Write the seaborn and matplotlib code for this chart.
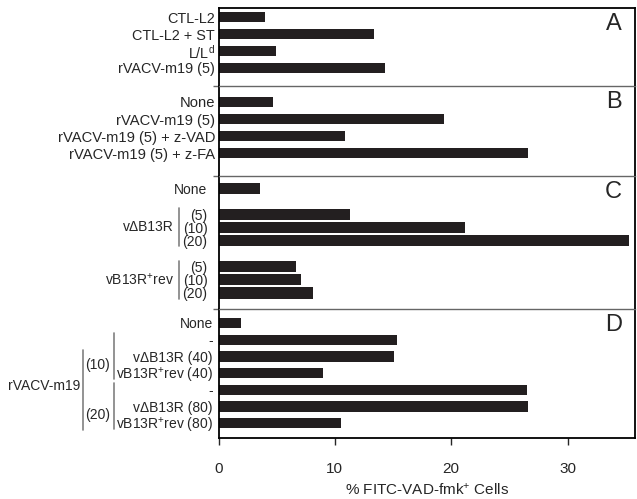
#!/usr/bin/env python3
"""
Horizontal bar panels (A-D) of % FITC-VAD-fmk+ cells per treatment.
"""

import matplotlib
matplotlib.use("Agg")
import matplotlib.pyplot as plt
import matplotlib.transforms as mtransforms
import pandas as pd
import seaborn as sns

# panel A
a_labels = ["CTL-L2", "CTL-L2 + ST", r"L/L$^\mathregular{d}$", "rVACV-m19 (5)"]
a_values = [4.0, 13.4, 4.9, 14.3]

# panel B
b_labels = ["None", "rVACV-m19 (5)", "rVACV-m19 (5) + z-VAD", "rVACV-m19 (5) + z-FA"]
b_values = [4.7, 19.4, 10.9, 26.6]

# panel C
c_labels = ["None", "(5)", "(10)", "(20)", "(5)", "(10)", "(20)"]
c_values = [3.6, 11.3, 21.2, 35.3, 6.7, 7.1, 8.1]
c_groups = ["v\u0394B13R", r"vB13R$^\mathregular{+}$rev"]

# panel D
d_labels = ["None", "-", "v\u0394B13R (40)", r"vB13R$^\mathregular{+}$rev (40)",
            "-", "v\u0394B13R (80)", r"vB13R$^\mathregular{+}$rev (80)"]
d_values = [1.9, 15.3, 15.1, 9.0, 26.5, 26.6, 10.5]
d_groups = ["(10)", "(20)"]
d_outer = "rVACV-m19"

panel_letters = ["A", "B", "C", "D"]
x_ticks = [0, 10, 20, 30]
x_label = r"% FITC-VAD-fmk$^\mathregular{+}$ Cells"

BAR = "#231f20"
SEP = "#666666"
BRACKET = "#808080"

sns.set_style("ticks")
plt.rcParams["font.family"] = ["Liberation Sans", "DejaVu Sans"]
plt.rcParams["mathtext.default"] = "regular"

W, H = 637, 499


def draw_panel(ax, labels, values, gaps_after, bar_width, top_pad, bottom_pad, pad, size=10):
    """Bars on a categorical y axis, with empty slots for the gaps."""
    keys, ticks, slots = [], [], {}
    for i, lab in enumerate(labels):
        slots[i] = len(keys)
        keys.append(f"r{i}")
        ticks.append(lab)
        if i in gaps_after:
            keys.append(f"gap{i}")
            ticks.append("")
    df = pd.DataFrame({"key": [f"r{i}" for i in range(len(labels))], "value": values})
    sns.barplot(data=df, x="value", y="key", order=keys, orient="h", color=BAR,
                saturation=1, width=bar_width, linewidth=0, ax=ax)
    ax.set_yticks(range(len(keys)))
    ax.set_yticklabels(ticks)
    ax.set_ylim(len(keys) - 1 + bottom_pad, -top_pad)
    ax.set_xlabel("")
    ax.set_ylabel("")
    ax.tick_params(axis="y", which="major", length=0, pad=pad, labelsize=size)
    return slots


fig, axes = plt.subplots(
    4, 1, figsize=(W / 100, H / 100), dpi=100, sharex=True,
    gridspec_kw=dict(height_ratios=[78, 90, 133, 129], hspace=0,
                     left=218.5 / W, right=635 / W, top=1 - 8 / H, bottom=1 - 438 / H),
)

draw_panel(axes[0], a_labels, a_values, [], 0.6, 0.53, 1.06, 2.5, 10.4)
draw_panel(axes[1], b_labels, b_values, [], 0.6, 0.94, 1.35, 2.5, 10.6)
c_slots = draw_panel(axes[2], c_labels, c_values, [0, 3], 0.84, 0.92, 1.22, 8)
d_slots = draw_panel(axes[3], d_labels, d_values, [], 0.62, 0.84, 0.9, 4)

for i, ax in enumerate(axes):
    ax.set_xlim(0, 35.8)
    for side in ["left", "right"]:
        ax.spines[side].set_color("black")
        ax.spines[side].set_linewidth(1.3)
    if i == 0:
        ax.spines["top"].set_color("black")
        ax.spines["top"].set_linewidth(1.3)
    else:
        ax.spines["top"].set_color(SEP)
        ax.spines["top"].set_linewidth(1.0)
    if i < 3:
        ax.spines["bottom"].set_visible(False)
        ax.tick_params(axis="x", bottom=False, labelbottom=False)
        # small outward dash where the separator meets the axis
        ax.set_yticks([ax.get_ylim()[0]], minor=True)
        ax.tick_params(axis="y", which="minor", left=True, length=4, width=1.0,
                       direction="out", color=SEP)
    else:
        ax.spines["bottom"].set_color("black")
        ax.spines["bottom"].set_linewidth(1.3)
    ax.annotate(panel_letters[i], xy=(1, 1), xycoords="axes fraction",
                xytext=(-13, -5), textcoords="offset pixels",
                ha="right", va="top", fontsize=17)

ax_d = axes[3]
ax_d.set_xticks(x_ticks)
ax_d.tick_params(axis="x", length=5, width=1.0, direction="out", pad=12, labelsize=11)
ax_d.set_xlabel(x_label, fontsize=11, labelpad=4)

# group brackets in panel C
ax_c = axes[2]
tr_c = mtransforms.blended_transform_factory(fig.transFigure, ax_c.transData)
for g, (first, last) in zip(c_groups, [(1, 3), (4, 6)]):
    y0, y1 = c_slots[first], c_slots[last]
    ax_c.plot([179 / W, 179 / W], [y0 - 0.45, y1 + 0.45], transform=tr_c,
              clip_on=False, color=BRACKET, lw=1.2)
    ax_c.text(174 / W, (y0 + y1) / 2, g, transform=tr_c, ha="right", va="center",
              fontsize=10)

# nested brackets in panel D
tr_d = mtransforms.blended_transform_factory(fig.transFigure, ax_d.transData)
for g, (first, last) in zip(d_groups, [(1, 3), (4, 6)]):
    y0, y1 = d_slots[first], d_slots[last]
    ax_d.plot([114 / W, 114 / W], [y0 - 0.4, y1 + 0.35], transform=tr_d,
              clip_on=False, color=BRACKET, lw=1.2)
    ax_d.text(110 / W, (y0 + y1) / 2 + 0.5, g, transform=tr_d, ha="right",
              va="center", fontsize=10)
ax_d.plot([83 / W, 83 / W], [d_slots[1] + 0.6, d_slots[6] + 0.4], transform=tr_d,
          clip_on=False, color=BRACKET, lw=1.2)
ax_d.text(80 / W, 3.8, d_outer, transform=tr_d, ha="right", va="center", fontsize=10)

fig.savefig("out.png", dpi=100)
plt.close(fig)
